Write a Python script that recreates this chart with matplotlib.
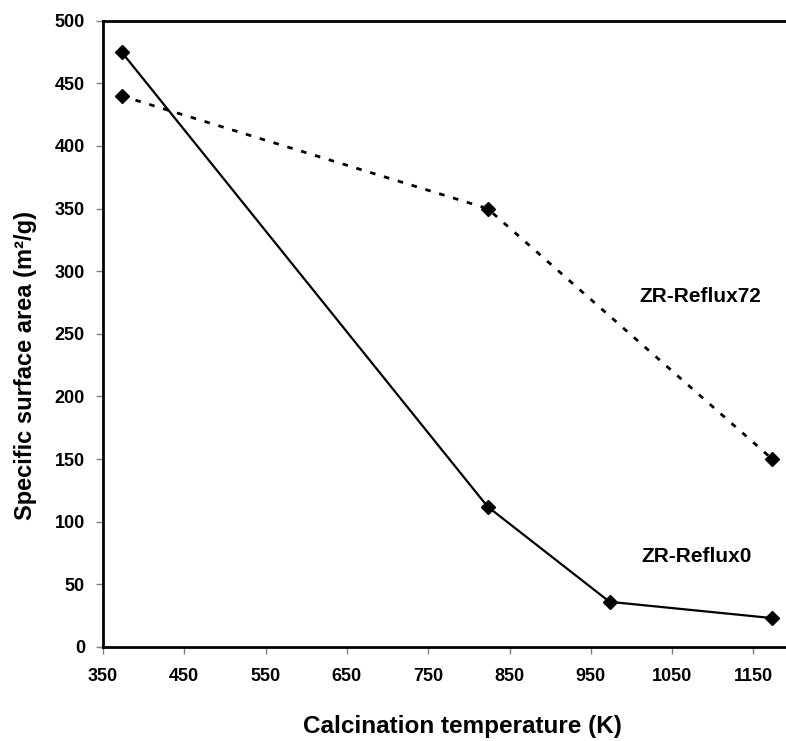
import matplotlib.pyplot as plt

temps_reflux0 = [373, 823, 973, 1173]
area_reflux0 = [475, 112, 36, 23]
temps_reflux72 = [373, 823, 1173]
area_reflux72 = [440, 350, 150]
xticks = [350, 450, 550, 650, 750, 850, 950, 1050, 1150]
yticks = [0, 50, 100, 150, 200, 250, 300, 350, 400, 450, 500]

plt.rcParams["font.family"] = ["Liberation Sans", "DejaVu Sans"]
plt.rcParams["font.weight"] = "bold"

fig = plt.figure(figsize=(7.86, 7.41), dpi=100)
ax = fig.add_axes([0.131, 0.127, 0.869, 0.845])

ax.plot(temps_reflux0, area_reflux0, color="black", lw=1.6,
        marker="D", markersize=7.5)
ax.plot(temps_reflux72, area_reflux72, color="black", lw=2,
        linestyle=(0, (2, 3.2)), marker="D", markersize=7.5)

ax.text(1010, 280, "ZR-Reflux72", fontsize=15, fontweight="bold", va="center")
ax.text(1012, 72, "ZR-Reflux0", fontsize=15, fontweight="bold", va="center")

ax.set_xlim(350, 1190)
ax.set_ylim(0, 500)
ax.set_xticks(xticks)
ax.set_yticks(yticks)
ax.tick_params(direction="out", length=5, width=1, color="gray",
               labelsize=13)
ax.tick_params(axis="x", pad=10)
ax.tick_params(axis="y", pad=8)
for lbl in ax.get_xticklabels() + ax.get_yticklabels():
    lbl.set_fontweight("bold")
ax.spines["right"].set_visible(False)
for s in ["left", "bottom", "top"]:
    ax.spines[s].set_linewidth(2)

ax.set_xlabel("Calcination temperature (K)", fontsize=17.5, fontweight="bold",
              va="center")
ax.set_ylabel("Specific surface area (m²/g)", fontsize=17,
              fontweight="bold", va="center")
ax.xaxis.set_label_coords(0.527, -0.127)
ax.yaxis.set_label_coords(-0.114, 0.45)

plt.savefig("out.png", dpi=100)
